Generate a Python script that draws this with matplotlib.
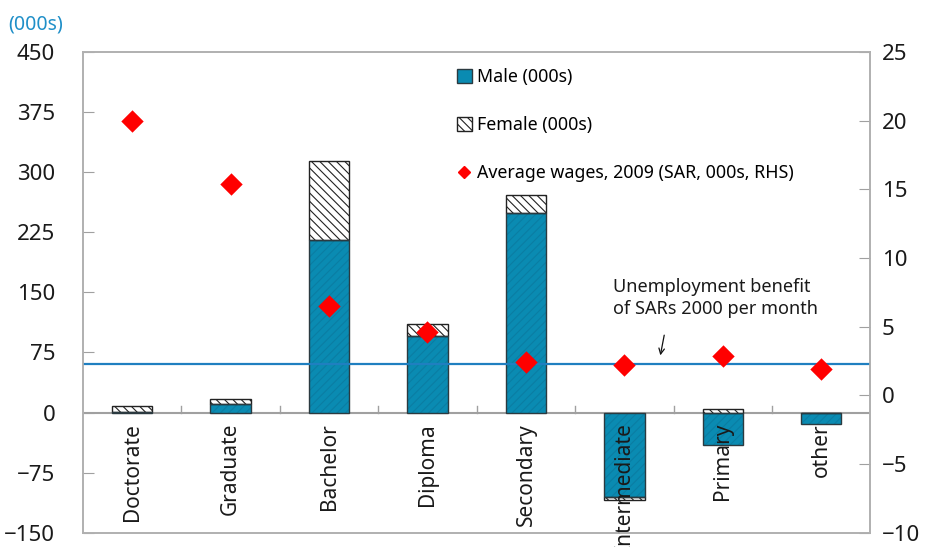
import matplotlib
matplotlib.use("Agg")
import matplotlib.pyplot as plt
import numpy as np
from matplotlib.patches import Patch
from matplotlib.lines import Line2D

plt.rcParams['font.family'] = ['Noto Sans', 'DejaVu Sans']
plt.rcParams['hatch.linewidth'] = 0.8

categories = ["Doctorate", "Graduate", "Bachelor", "Diploma", "Secondary",
              "Intermediate", "Primary", "other"]
male = [1, 11, 215, 95, 249, -105, -41, -14]
female = [7, 6, 99, 15, 22, -4, 5, 0]
wages = [20.0, 15.4, 6.5, 4.6, 2.4, 2.2, 2.9, 1.9]
benefit_level = 60
left_ticks = [-150, -75, 0, 75, 150, 225, 300, 375, 450]
right_ticks = [-10, -5, 0, 5, 10, 15, 20, 25]

male = np.array(male, float)
female = np.array(female, float)
fem_bottom = np.where(female >= 0, np.maximum(male, 0), np.minimum(male, 0))

fig = plt.figure(figsize=(9.32, 5.47), dpi=100)
ax = fig.add_axes([0.089, 0.026, 0.845, 0.879])
x = np.arange(len(categories))
w = 0.41
teal = '#0A8BB2'
edge = '#2b3a40'

ax.bar(x, male, w, color=teal, edgecolor='#0a7ea3', hatch='////', linewidth=0, zorder=2)
ax.bar(x, male, w, fill=False, edgecolor=edge, linewidth=1.0, zorder=3)
ax.bar(x, female, w, bottom=fem_bottom, color='white', edgecolor='#222222',
       hatch='\\\\\\\\', linewidth=1.0, zorder=2)

ax.axhline(0, color='#A0A0A0', lw=1.5, zorder=1)
ax.axhline(benefit_level, color='#1F7FC0', lw=1.6, zorder=4)

ax.set_xlim(-0.5, len(categories) - 0.5)
ax.set_ylim(-150, 450)
ax.set_yticks(left_ticks)
ax.set_xticks(x[:-1] + 0.5)
ax.set_xticklabels([])
ax.tick_params(axis='x', direction='in', length=0)
for xb in x[:-1] + 0.5:
    ax.plot([xb, xb], [0, 8], color='#A0A0A0', lw=1, zorder=1)
ax.tick_params(axis='y', direction='in', length=8, color='#A0A0A0', labelsize=16,
               labelcolor='#1a1a1a', pad=20)
for s in ax.spines.values():
    s.set_color('#B0B0B0')
    s.set_linewidth(1.2)

for xi, c in zip(x, categories):
    ax.text(xi, -13, c, rotation=90, ha='center', va='top', fontsize=15,
            color='#1a1a1a', zorder=5)

ax2 = ax.twinx()
ax2.set_ylim(-10, 25)
ax2.set_yticks(right_ticks)
ax2.tick_params(axis='y', direction='in', length=8, color='#A0A0A0', labelsize=16,
                labelcolor='#1a1a1a', pad=8)
for s in ax2.spines.values():
    s.set_color('#B0B0B0')
    s.set_linewidth(1.2)
ax2.scatter(x, wages, marker='D', s=130, color='#FF0000', zorder=5, linewidths=0)

fig.text(0.009, 0.955, "(000s)", color='#1F8FC8', fontsize=14, ha='left', va='center')

ax.annotate("", xy=(5.36, 68), xytext=(5.41, 100),
            arrowprops=dict(arrowstyle='->', color='#111111', lw=0.9))
ax.text(4.88, 143, "Unemployment benefit\nof SARs 2000 per month", fontsize=13,
        ha='left', va='center', color='#1a1a1a', linespacing=1.35)

handles = [Patch(facecolor=teal, edgecolor=edge, label='Male (000s)'),
           Patch(facecolor='white', edgecolor='#222222', hatch='\\\\\\\\', label='Female (000s)'),
           Line2D([], [], marker='D', color='#FF0000', linestyle='none', markersize=6,
                  label='Average wages, 2009 (SAR, 000s, RHS)')]
ax.legend(handles=handles, loc='upper left', bbox_to_anchor=(0.455, 1.0), frameon=False,
          fontsize=12.8, labelspacing=1.7, handlelength=0.8, handleheight=0.8,
          handletextpad=0.3)

fig.savefig("out.png", dpi=100)
